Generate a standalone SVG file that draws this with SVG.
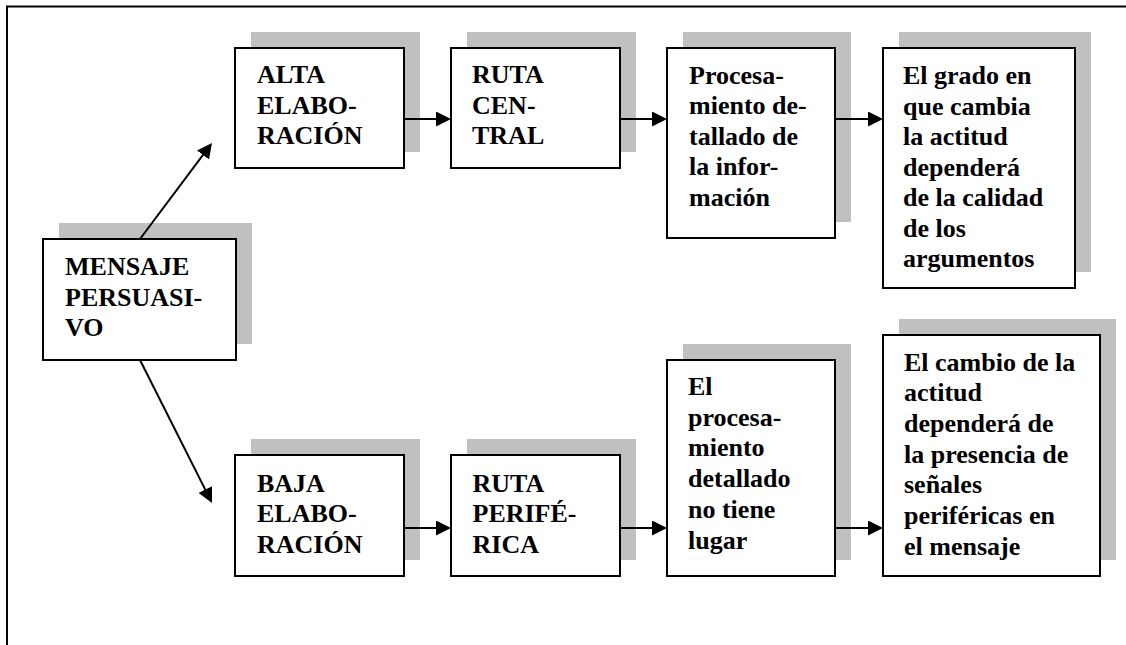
<svg xmlns="http://www.w3.org/2000/svg" width="1126" height="645" viewBox="0 0 1126 645">
  <defs>
    <style>
      .frame { fill: none; stroke: #000; stroke-width: 2; }
      .shadow { fill: #c0c0c0; stroke: none; }
      .box { fill: #fff; stroke: #000; stroke-width: 2; }
      .label { font-family: 'Liberation Serif', 'Times New Roman', serif; font-weight: bold; font-size: 26px; fill: #000; }
      .link { fill: none; stroke: #000; stroke-width: 2; }
    </style>
    <marker id="arrow" markerUnits="userSpaceOnUse" markerWidth="15" markerHeight="15" refX="11" refY="7.5" orient="auto">
      <path d="M0,0 L15,7.5 L0,15 Z" fill="#000"/>
    </marker>
  </defs>

  <rect width="1126" height="645" fill="#fff"/>
  <path class="frame" d="M7,645 V6.5 H1126"/>

  <g id="mensaje">
    <rect class="shadow" x="59" y="223" width="193" height="121"/>
    <rect class="box" x="43" y="239" width="193" height="121"/>
    <text class="label" font-family="Liberation Serif, serif">
      <tspan x="65" y="275">MENSAJE</tspan>
      <tspan x="65" y="305.5">PERSUASI-</tspan>
      <tspan x="65" y="336">VO</tspan>
    </text>
  </g>

  <g id="alta">
    <rect class="shadow" x="251" y="32" width="169" height="120"/>
    <rect class="box" x="235" y="48" width="169" height="120"/>
    <text class="label">
      <tspan x="257" y="83">ALTA</tspan>
      <tspan x="257" y="113.5">ELABO-</tspan>
      <tspan x="257" y="144">RACIÓN</tspan>
    </text>
  </g>

  <g id="ruta-central">
    <rect class="shadow" x="467" y="32" width="169" height="120"/>
    <rect class="box" x="451" y="48" width="169" height="120"/>
    <text class="label">
      <tspan x="472" y="83">RUTA</tspan>
      <tspan x="472" y="113.5">CEN-</tspan>
      <tspan x="472" y="144">TRAL</tspan>
    </text>
  </g>

  <g id="procesamiento">
    <rect class="shadow" x="683" y="32" width="168" height="190"/>
    <rect class="box" x="667" y="48" width="168" height="190"/>
    <text class="label">
      <tspan x="689" y="83.5">Procesa-</tspan>
      <tspan x="689" y="114">miento de-</tspan>
      <tspan x="689" y="144.5">tallado de</tspan>
      <tspan x="689" y="175">la infor-</tspan>
      <tspan x="689" y="205.5">mación</tspan>
    </text>
  </g>

  <g id="grado">
    <rect class="shadow" x="899" y="32" width="192" height="240"/>
    <rect class="box" x="883" y="48" width="192" height="240"/>
    <text class="label">
      <tspan x="903" y="84">El grado en</tspan>
      <tspan x="903" y="114.5">que cambia</tspan>
      <tspan x="903" y="145">la actitud</tspan>
      <tspan x="903" y="175.5">dependerá</tspan>
      <tspan x="903" y="206">de la calidad</tspan>
      <tspan x="903" y="236.5">de los</tspan>
      <tspan x="903" y="267">argumentos</tspan>
    </text>
  </g>

  <g id="baja">
    <rect class="shadow" x="251" y="439" width="169" height="121"/>
    <rect class="box" x="235" y="455" width="169" height="121"/>
    <text class="label">
      <tspan x="257" y="491.5">BAJA</tspan>
      <tspan x="257" y="522">ELABO-</tspan>
      <tspan x="257" y="552.5">RACIÓN</tspan>
    </text>
  </g>

  <g id="ruta-periferica">
    <rect class="shadow" x="467" y="439" width="169" height="121"/>
    <rect class="box" x="451" y="455" width="169" height="121"/>
    <text class="label">
      <tspan x="472.5" y="491.5">RUTA</tspan>
      <tspan x="472.5" y="522">PERIFÉ-</tspan>
      <tspan x="472.5" y="552.5">RICA</tspan>
    </text>
  </g>

  <g id="sin-procesamiento">
    <rect class="shadow" x="683" y="344" width="168" height="216"/>
    <rect class="box" x="667" y="360" width="168" height="216"/>
    <text class="label">
      <tspan x="688" y="395">El</tspan>
      <tspan x="688" y="425.7">procesa-</tspan>
      <tspan x="688" y="456.4">miento</tspan>
      <tspan x="688" y="487.1">detallado</tspan>
      <tspan x="688" y="517.8">no tiene</tspan>
      <tspan x="688" y="548.5">lugar</tspan>
    </text>
  </g>

  <g id="cambio">
    <rect class="shadow" x="899" y="319" width="217" height="241"/>
    <rect class="box" x="883" y="335" width="217" height="241"/>
    <text class="label">
      <tspan x="904" y="370.5">El cambio de la</tspan>
      <tspan x="904" y="401.2">actitud</tspan>
      <tspan x="904" y="431.9">dependerá de</tspan>
      <tspan x="904" y="462.6">la presencia de</tspan>
      <tspan x="904" y="493.3">señales</tspan>
      <tspan x="904" y="524">periféricas en</tspan>
      <tspan x="904" y="554.7">el mensaje</tspan>
    </text>
  </g>

  <g id="connectors">
    <line class="link" x1="140" y1="239" x2="209.6" y2="146.2" marker-end="url(#arrow)"/>
    <line class="link" x1="140" y1="360" x2="210.2" y2="499.4" marker-end="url(#arrow)"/>
    <line class="link" x1="404" y1="119" x2="447" y2="119" marker-end="url(#arrow)"/>
    <line class="link" x1="620" y1="119" x2="663" y2="119" marker-end="url(#arrow)"/>
    <line class="link" x1="835" y1="119" x2="879" y2="119" marker-end="url(#arrow)"/>
    <line class="link" x1="404" y1="528" x2="447" y2="528" marker-end="url(#arrow)"/>
    <line class="link" x1="620" y1="528" x2="663" y2="528" marker-end="url(#arrow)"/>
    <line class="link" x1="835" y1="528" x2="879" y2="528" marker-end="url(#arrow)"/>
  </g>
</svg>
